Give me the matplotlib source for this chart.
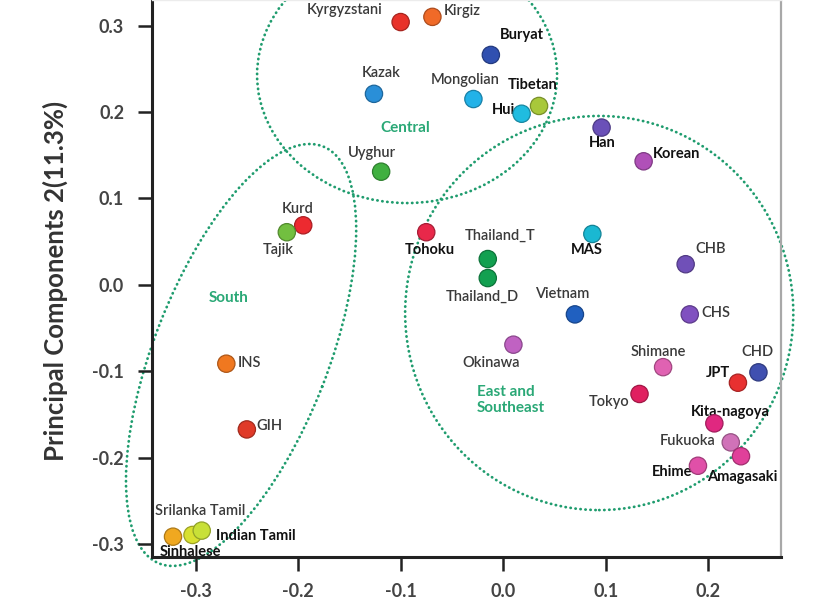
import matplotlib
matplotlib.use('Agg')
import matplotlib.pyplot as plt
import matplotlib.colors as mcolors
from matplotlib.patches import Ellipse
from matplotlib.transforms import Affine2D

# populações e coordenadas PCA (PC1, PC2)
pops = ['Kyrgyzstani', 'Kirgiz', 'Buryat', 'Kazak', 'Mongolian', 'Hui', 'Tibetan',
        'Uyghur', 'Han', 'Korean', 'Kurd', 'Tajik', 'Tohoku', 'Thailand_T',
        'Thailand_D', 'MAS', 'CHB', 'Vietnam', 'CHS', 'Okinawa', 'Shimane', 'CHD',
        'JPT', 'Tokyo', 'Kita-nagoya', 'Fukuoka', 'Amagasaki', 'Ehime', 'INS', 'GIH',
        'Srilanka Tamil', 'Indian Tamil', 'Sinhalese']
pc1 = [-0.100, -0.069, -0.012, -0.126, -0.029, 0.018, 0.035,
       -0.119, 0.096, 0.137, -0.195, -0.211, -0.075, -0.015,
       -0.015, 0.087, 0.178, 0.070, 0.182, 0.010, 0.156, 0.249,
       0.229, 0.133, 0.206, 0.222, 0.232, 0.190, -0.270, -0.250,
       -0.303, -0.294, -0.322]
pc2 = [0.304, 0.310, 0.266, 0.221, 0.215, 0.198, 0.207,
       0.131, 0.182, 0.143, 0.069, 0.061, 0.061, 0.030,
       0.008, 0.059, 0.024, -0.034, -0.034, -0.069, -0.095, -0.101,
       -0.113, -0.126, -0.160, -0.182, -0.198, -0.209, -0.091, -0.167,
       -0.289, -0.284, -0.291]
cores = ['#e8322a', '#f06a28', '#3050b0', '#2a8fd8', '#22b2e8', '#20bce0', '#a8c83a',
         '#40b040', '#6a50b8', '#b050b8', '#ec2a30', '#72bf40', '#e8284a', '#12a050',
         '#12a050', '#1ab8d2', '#7050b8', '#2060c0', '#8050c0', '#c062c2', '#e062b2', '#4050b0',
         '#e83030', '#e02060', '#e02880', '#d072b8', '#e0409a', '#e050a8', '#f07820', '#e03a28',
         '#d8e030', '#c8e038', '#f0a820']
negrito = ['Buryat', 'Tibetan', 'Hui', 'Han', 'Korean', 'Tohoku', 'MAS', 'Indian Tamil',
           'Sinhalese', 'Kita-nagoya', 'JPT', 'Amagasaki', 'Ehime']

# onde fica cada rótulo (deslocamento em pixels, alinhamento)
rotulos = {
    'Kyrgyzstani': (-56, -12, 'center'), 'Kirgiz': (11, -6, 'left'),
    'Buryat': (31, -20, 'center'), 'Kazak': (7, -21, 'center'),
    'Mongolian': (-8, -19, 'center'), 'Hui': (-6, -4, 'right'),
    'Tibetan': (-6, -21, 'center'), 'Uyghur': (-9, -19, 'center'),
    'Han': (1, 15, 'center'), 'Korean': (9, -7, 'left'),
    'Kurd': (-6, -16, 'center'), 'Tajik': (-9, 18, 'center'),
    'Tohoku': (4, 18, 'center'), 'Thailand_T': (12, -23, 'center'),
    'Thailand_D': (-5, 19, 'center'), 'MAS': (-6, 16, 'center'),
    'CHB': (25, -15, 'center'), 'Vietnam': (-13, -20, 'center'),
    'CHS': (12, -1, 'left'), 'Okinawa': (-22, 18, 'center'),
    'Shimane': (-5, -15, 'center'), 'CHD': (-1, -20, 'center'),
    'JPT': (-20, -10, 'center'), 'Tokyo': (-10, 8, 'right'),
    'Kita-nagoya': (16, -11, 'center'), 'Fukuoka': (-15, -1, 'right'),
    'Amagasaki': (1, 21, 'center'), 'Ehime': (-26, 6, 'center'),
    'INS': (11, -1, 'left'), 'GIH': (10, -3, 'left'),
    'Srilanka Tamil': (8, -24, 'center'), 'Indian Tamil': (14, 5, 'left'),
    'Sinhalese': (17, 15, 'center'),
}

# grupos: rótulo e elipse (centro, semi-eixos em unidades de PC1, ângulo)
grupos = ['Central', 'South', 'East and\nSoutheast']
grupo_x = [-0.0956, -0.268, -0.0254]
grupo_y = [0.1815, -0.015, -0.133]
grupo_ha = ['center', 'center', 'left']
elipse_cx = [-0.0937, -0.2556, 0.0937]
elipse_cy = [0.2428, -0.0809, -0.0324]
elipse_a = [0.1463, 0.2185, 0.1893]
elipse_b = [0.1249, 0.0849, 0.1922]
elipse_ang = [0, 68.6, 0]

VERDE = '#1f9c6e'
xlim = (-0.3425, 0.271)
ylim = (-0.3145, 0.3295)

fig = plt.figure(figsize=(8.32, 6.0), dpi=100)
ax = fig.add_axes([152 / 832, 43 / 600, 629 / 832, 557 / 600])
ax.set_xlim(xlim)
ax.set_ylim(ylim)

# razão entre escala vertical e horizontal (px por unidade)
sx = 629 / (xlim[1] - xlim[0])
sy = 557 / (ylim[1] - ylim[0])
r = sy / sx
trans = Affine2D().scale(1, 1 / r) + ax.transData

for cx, cy, a, b, ang in zip(elipse_cx, elipse_cy, elipse_a, elipse_b, elipse_ang):
    e = Ellipse((cx, cy * r), 2 * a, 2 * b, angle=ang, transform=trans,
                fill=False, edgecolor=VERDE, lw=2.0, linestyle=(0, (0.1, 1.7)),
                capstyle='round', zorder=1, clip_on=False)
    ax.add_patch(e)

bordas = []
for c in cores:
    rgb = mcolors.to_rgb(c)
    bordas.append(tuple(v * 0.72 for v in rgb))
ax.scatter(pc1, pc2, s=155, c=cores, edgecolors=bordas, linewidths=0.9, zorder=3)

for nome, x, y in zip(pops, pc1, pc2):
    dx, dy, ha = rotulos[nome]
    if nome in negrito:
        peso, cor = 'bold', '#111111'
    else:
        peso, cor = 'semibold', '#3a3a3a'
    ax.annotate(nome, (x, y), xytext=(dx * 0.72, -dy * 0.72), textcoords='offset points',
                ha=ha, va='center', fontsize=10.5, fontweight=peso, color=cor,
                family='Lato', zorder=2)

for g, x, y, ha in zip(grupos, grupo_x, grupo_y, grupo_ha):
    ax.text(x, y, g, ha=ha, va='center', fontsize=11, fontweight='bold',
            color='#2aa876', family='Lato', linespacing=1.25)

ax.set_xticks([-0.3, -0.2, -0.1, 0.0, 0.1, 0.2])
ax.set_yticks([-0.3, -0.2, -0.1, 0.0, 0.1, 0.2, 0.3])
ax.set_xticklabels(['-0.3', '-0.2', '-0.1', '0.0', '0.1', '0.2'])
ax.set_yticklabels(['-0.3', '-0.2', '-0.1', '0.0', '0.1', '0.2', '0.3'])
ax.tick_params(direction='out', length=10, width=1.8, color='#222222',
               labelsize=13, labelcolor='#444444', pad=10)
ax.tick_params(axis='x', pad=9)
for lab in ax.get_xticklabels() + ax.get_yticklabels():
    lab.set_fontweight('bold')
    lab.set_family('Lato')

ax.set_ylabel('Principal Components 2(11.3%)', fontsize=18.5, fontweight='bold',
              color='#333333', family='Lato')
ax.yaxis.set_label_coords(-0.133, 0.495)

ax.spines['left'].set_color('#222222')
ax.spines['left'].set_linewidth(2.2)
ax.spines['bottom'].set_color('#222222')
ax.spines['bottom'].set_linewidth(2.2)
ax.spines['right'].set_color('#a8a8a8')
ax.spines['right'].set_linewidth(1.6)
ax.spines['top'].set_color('#ececec')
ax.spines['top'].set_linewidth(1)

fig.savefig('out.png', dpi=100)
